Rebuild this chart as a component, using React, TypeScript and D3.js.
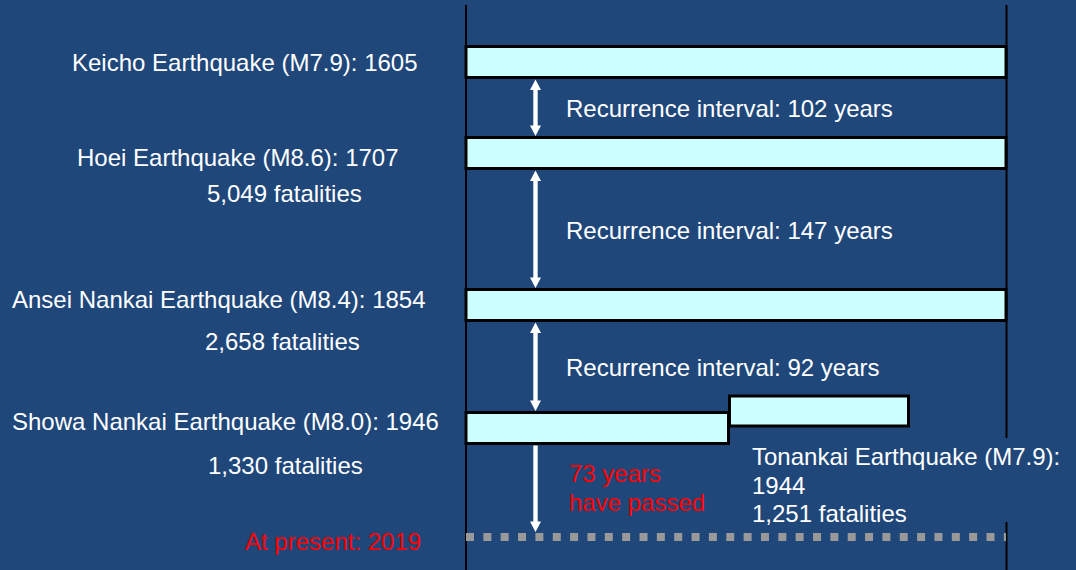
import React from "react";
import * as d3 from "d3";

// ---------- data ----------
const quakeNames = ["Keicho Earthquake", "Hoei Earthquake", "Ansei Nankai Earthquake", "Showa Nankai Earthquake"];
const magnitudes = ["7.9", "8.6", "8.4", "8.0"];
const years = [1605, 1707, 1854, 1946];
const fatalities = [null, 5049, 2658, 1330];
const presentYear = 2019;
const tonankaiName = "Tonankai Earthquake";
const tonankaiMagnitude = "7.9";
const tonankaiYear = 1944;
const tonankaiFatalities = 1251;

// ---------- layout ----------
const W = 1076;
const H = 570;
const BG = "#1F477A";
const BAR_FILL = "#CCFFFF";
const FONT = "'Liberation Sans', Arial, Helvetica, sans-serif";
const FS = 24;
const timelineLeft = 466;
const timelineRight = 1006;
const barH = 31;
const labelX = [72, 77, 12, 12];
const labelDy = [24, 28, 18, 17];
const fatalX = [0, 207, 205, 208];
const fatalDy = [0, 64, 60, 61];
const arrowX = 535.5;

// timeline (year -> top of bar)
const y = d3
  .scaleLinear()
  .domain([...years, presentYear])
  .range([46.5, 137.5, 289.5, 412.5, 537]);

const fmt = d3.format(",");
const line = d3.line();

function arrowPath(x: number, y1: number, y2: number, double: boolean): string {
  const sw = 2.2, hw = 5.5, hl = 10.5;
  const pts: [number, number][] = double
    ? [
        [x, y1], [x + hw, y1 + hl], [x + sw, y1 + hl], [x + sw, y2 - hl], [x + hw, y2 - hl],
        [x, y2], [x - hw, y2 - hl], [x - sw, y2 - hl], [x - sw, y1 + hl], [x - hw, y1 + hl],
      ]
    : [
        [x - sw, y1], [x + sw, y1], [x + sw, y2 - hl], [x + hw, y2 - hl],
        [x, y2], [x - hw, y2 - hl], [x - sw, y2 - hl],
      ];
  return (line(pts) as string) + "Z";
}

export default function App() {
  const showaTop = y(years[3]);
  const showaRight = 728.5;
  const tonTop = showaTop - 16.5;
  const tonRight = 908.5;
  const presentY = y(presentYear);

  const intervals = years.slice(1).map((yr, i) => ({
    yrs: yr - years[i],
    y1: y(years[i]) + barH + 2,
    y2: y(yr) - 1.5,
  }));
  const elapsed = presentYear - years[3];

  return (
    <svg
      width={W}
      height={H}
      style={{ position: "absolute", left: 0, top: 0, display: "block" }}
      fontFamily={FONT}
      fontSize={FS}
    >
      <rect x={0} y={0} width={W} height={H} fill={BG} />

      {/* vertical frame lines */}
      <line x1={timelineLeft} x2={timelineLeft} y1={5} y2={H} stroke="#000" strokeWidth={2} />
      <line x1={timelineRight + 0.5} x2={timelineRight + 0.5} y1={5} y2={H} stroke="#000" strokeWidth={2} />

      {/* full-width bars */}
      {years.slice(0, 3).map((yr, i) => (
        <rect
          key={yr}
          x={timelineLeft}
          y={y(yr)}
          width={timelineRight - timelineLeft}
          height={barH}
          fill={BAR_FILL}
          stroke="#000"
          strokeWidth={3}
        />
      ))}
      {/* Showa bar */}
      <rect x={timelineLeft} y={showaTop} width={showaRight - timelineLeft} height={barH} fill={BAR_FILL} stroke="#000" strokeWidth={3} />
      {/* Tonankai bar */}
      <rect x={showaRight + 1} y={tonTop} width={tonRight - showaRight - 1} height={barH - 1} fill={BAR_FILL} stroke="#000" strokeWidth={3} />

      {/* arrows */}
      {intervals.map((d) => (
        <path key={d.yrs} d={arrowPath(arrowX, d.y1, d.y2, true)} fill="#fff" />
      ))}
      <path d={arrowPath(arrowX, showaTop + barH + 2, presentY - 5, false)} fill="#fff" />

      {/* present dotted line */}
      <line
        x1={timelineLeft}
        x2={timelineRight}
        y1={presentY}
        y2={presentY}
        stroke="#999999"
        strokeWidth={8}
        strokeDasharray="8 9.35"
      />

      {/* recurrence labels */}
      {intervals.map((d) => (
        <text key={"t" + d.yrs} x={566} y={(d.y1 + d.y2) / 2 + 9.5} fill="#fff">
          {`Recurrence interval: ${d.yrs} years`}
        </text>
      ))}

      {/* quake labels */}
      {quakeNames.map((n, i) => (
        <text key={n} x={labelX[i]} y={y(years[i]) + labelDy[i]} fill="#fff">
          {`${n} (M${magnitudes[i]}): ${years[i]}`}
        </text>
      ))}
      {fatalities.map((f, i) =>
        f == null ? null : (
          <text key={"f" + i} x={fatalX[i]} y={y(years[i]) + fatalDy[i]} fill="#fff">
            {`${fmt(f)} fatalities`}
          </text>
        )
      )}

      {/* elapsed */}
      <text x={569} y={showaTop + 69.5} fill="#FF0000">{`${elapsed} years`}</text>
      <text x={569} y={showaTop + 98} fill="#FF0000">have passed</text>

      {/* Tonankai label with background box */}
      <rect x={745} y={438} width={331} height={84} fill={BG} />
      <text x={752} y={465} fill="#fff">{`${tonankaiName} (M${tonankaiMagnitude}):`}</text>
      <text x={752} y={494} fill="#fff">{`${tonankaiYear}`}</text>
      <text x={752} y={522} fill="#fff">{`${fmt(tonankaiFatalities)} fatalities`}</text>

      {/* present label */}
      <text x={245} y={550} fill="#FF0000">{`At present: ${presentYear}`}</text>
    </svg>
  );
}
